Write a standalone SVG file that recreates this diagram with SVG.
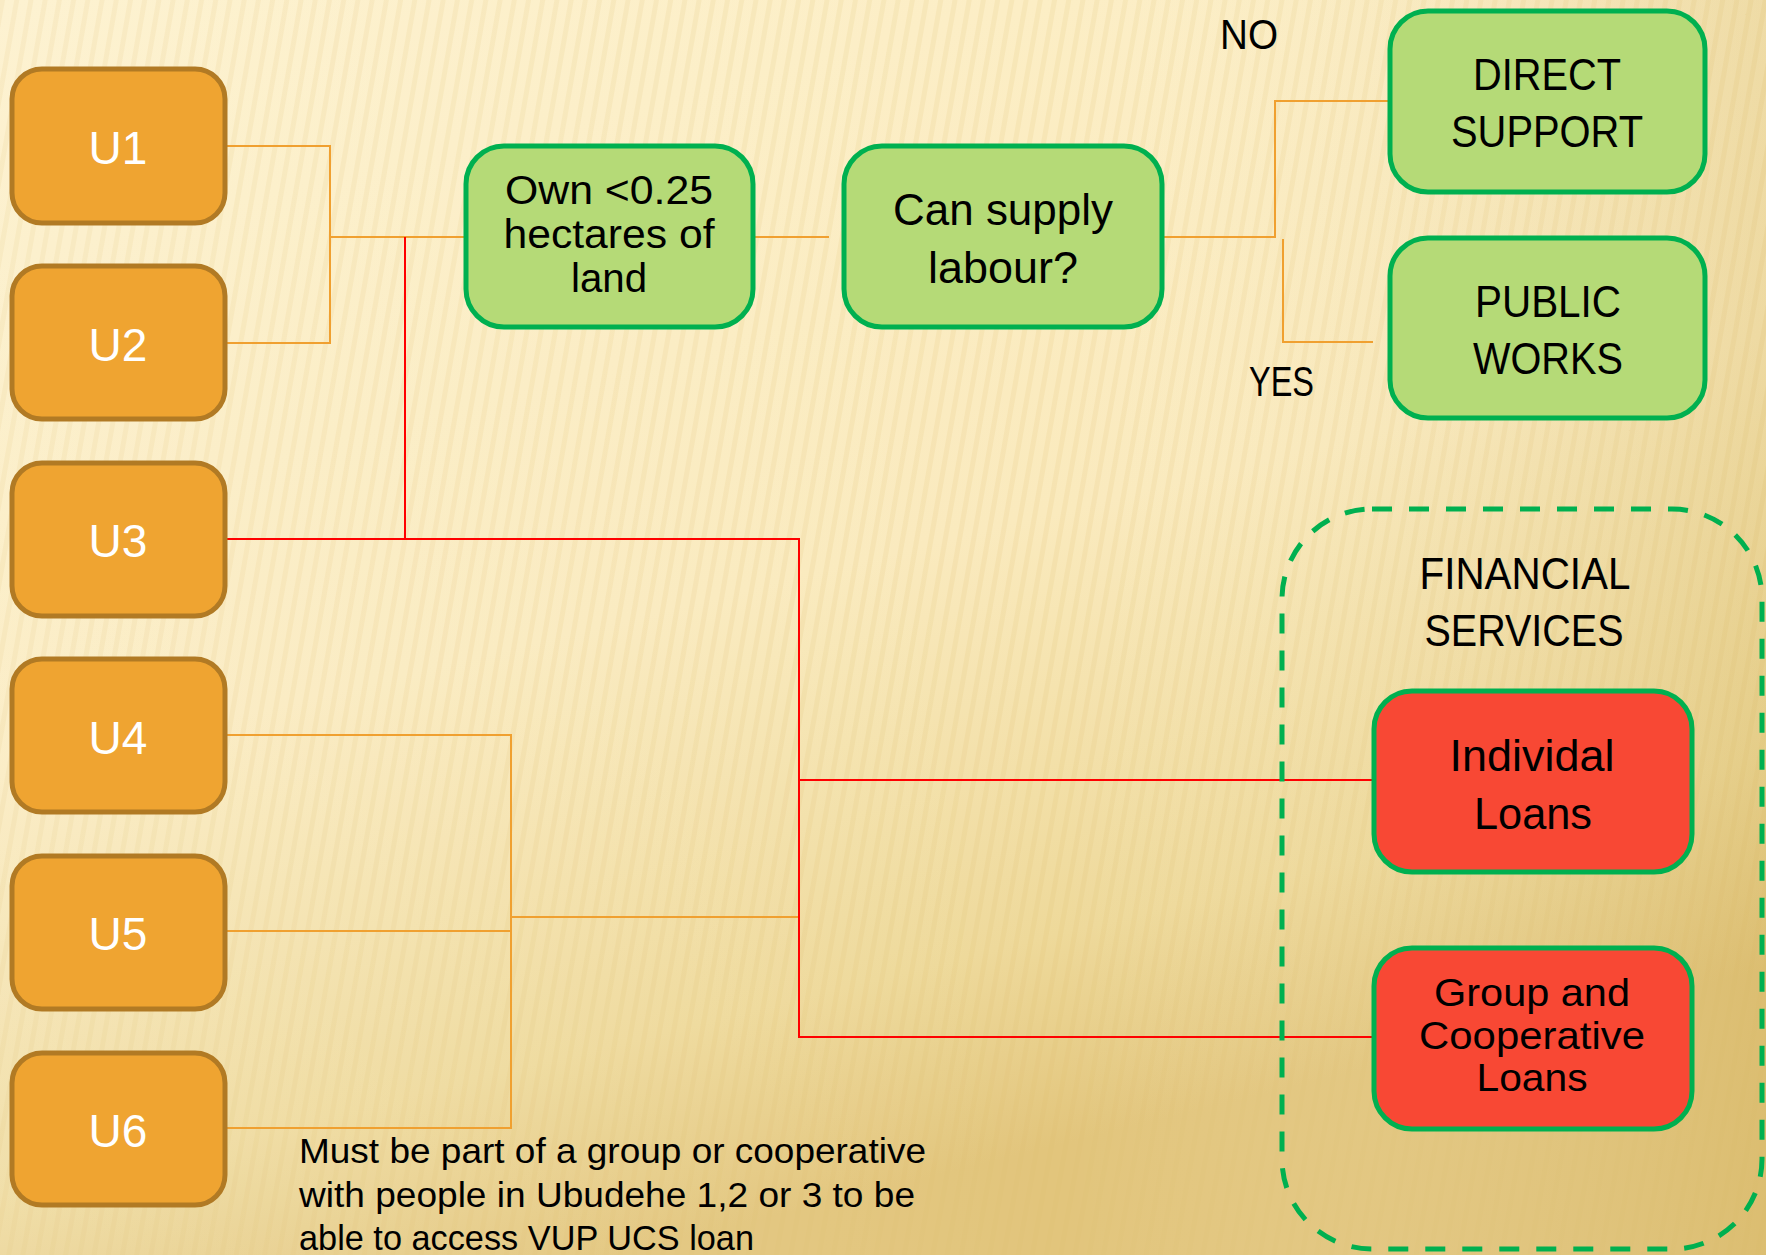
<svg xmlns="http://www.w3.org/2000/svg" width="1766" height="1255" viewBox="0 0 1766 1255">
<defs>
<linearGradient id="bg" x1="0" y1="0" x2="0.35" y2="1">
<stop offset="0" stop-color="#FDF0C9"/>
<stop offset="0.55" stop-color="#FAEABD"/>
<stop offset="0.85" stop-color="#EED99A"/>
<stop offset="1" stop-color="#E2C57C"/>
</linearGradient>
<linearGradient id="bgr" x1="0" y1="0" x2="1" y2="0">
<stop offset="0" stop-color="#FFFFFF" stop-opacity="0.15"/>
<stop offset="0.6" stop-color="#FFFFFF" stop-opacity="0"/>
<stop offset="1" stop-color="#C9A850" stop-opacity="0.25"/>
</linearGradient>
<pattern id="stripes" width="14" height="40" patternUnits="userSpaceOnUse" patternTransform="rotate(10)">
<rect x="0" y="0" width="5" height="40" fill="#D9BC6A" opacity="0.15"/>
</pattern>
<style>
.u rect{fill:#EFA431;stroke:#B17A24;stroke-width:5}
.u text{fill:#FFFFFF;font-family:"Liberation Sans",Arial,sans-serif;font-size:46px;text-anchor:middle}
.g rect{fill:#B5DA77;stroke:#00B050;stroke-width:5}
.r rect{fill:#F84834;stroke:#00B050;stroke-width:5}
.t{fill:#000000;font-family:"Liberation Sans",Arial,sans-serif;text-anchor:middle}
.lbl{fill:#000000;font-family:"Liberation Sans",Arial,sans-serif}
.or{stroke:#F0A030;stroke-width:2;fill:none}
.rd{stroke:#FF0000;stroke-width:2;fill:none}
</style>
</defs>
<rect width="1766" height="1255" fill="url(#bg)"/>
<rect width="1766" height="1255" fill="url(#stripes)"/>
<rect width="1766" height="1255" fill="url(#bgr)"/>

<g id="connectors">
<polyline class="or" points="225,146 330,146 330,343 225,343"/>
<polyline class="or" points="330,237 464,237"/>
<polyline class="or" points="754,237 829,237"/>
<polyline class="or" points="1163,237 1275,237 1275,101 1388,101"/>
<polyline class="or" points="1283,239 1283,342 1373,342"/>
<polyline class="or" points="225,735 511,735 511,1128 225,1128"/>
<polyline class="or" points="225,931 511,931"/>
<polyline class="or" points="511,917 799,917"/>
<polyline class="rd" points="405,237 405,539"/>
<polyline class="rd" points="225,539 799,539 799,1037 1372,1037"/>
<polyline class="rd" points="799,780 1372,780"/>
</g>

<g id="u1" class="u"><rect x="12" y="69" width="213" height="154" rx="30"/><text x="118" y="164">U1</text></g>
<g id="u2" class="u"><rect x="12" y="266" width="213" height="153" rx="30"/><text x="118" y="361">U2</text></g>
<g id="u3" class="u"><rect x="12" y="463" width="213" height="153" rx="30"/><text x="118" y="557">U3</text></g>
<g id="u4" class="u"><rect x="12" y="659" width="213" height="153" rx="30"/><text x="118" y="754">U4</text></g>
<g id="u5" class="u"><rect x="12" y="856" width="213" height="153" rx="30"/><text x="118" y="950">U5</text></g>
<g id="u6" class="u"><rect x="12" y="1053" width="213" height="152" rx="30"/><text x="118" y="1147">U6</text></g>

<g id="land" class="g"><rect x="466" y="146" width="287" height="181" rx="38"/>
<text class="t" font-size="40" x="609" y="204" textLength="208" lengthAdjust="spacingAndGlyphs">Own &lt;0.25</text>
<text class="t" font-size="40" x="609" y="248" textLength="211" lengthAdjust="spacingAndGlyphs">hectares of</text>
<text class="t" font-size="40" x="609" y="292" textLength="76" lengthAdjust="spacingAndGlyphs">land</text>
</g>
<g id="labour" class="g"><rect x="844" y="146" width="318" height="181" rx="38"/>
<text class="t" font-size="44" x="1003" y="225" textLength="220" lengthAdjust="spacingAndGlyphs">Can supply</text>
<text class="t" font-size="44" x="1003" y="283" textLength="150" lengthAdjust="spacingAndGlyphs">labour?</text>
</g>
<g id="direct" class="g"><rect x="1390" y="11" width="315" height="181" rx="38"/>
<text class="t" font-size="44" x="1547" y="90" textLength="148" lengthAdjust="spacingAndGlyphs">DIRECT</text>
<text class="t" font-size="44" x="1547" y="147" textLength="192" lengthAdjust="spacingAndGlyphs">SUPPORT</text>
</g>
<g id="public" class="g"><rect x="1390" y="238" width="315" height="180" rx="38"/>
<text class="t" font-size="44" x="1548" y="317" textLength="146" lengthAdjust="spacingAndGlyphs">PUBLIC</text>
<text class="t" font-size="44" x="1548" y="374" textLength="150" lengthAdjust="spacingAndGlyphs">WORKS</text>
</g>

<g id="no"><text class="lbl" font-size="42" x="1220" y="49" textLength="58" lengthAdjust="spacingAndGlyphs">NO</text></g>
<g id="yes"><text class="lbl" font-size="42" x="1249" y="396" textLength="65" lengthAdjust="spacingAndGlyphs">YES</text></g>

<g id="financial">
<rect x="1282" y="509" width="480" height="740" rx="90" fill="none" stroke="#00B050" stroke-width="5" stroke-dasharray="20,17"/>
<text class="t" font-size="44" x="1525" y="589" textLength="211" lengthAdjust="spacingAndGlyphs">FINANCIAL</text>
<text class="t" font-size="44" x="1524" y="646" textLength="199" lengthAdjust="spacingAndGlyphs">SERVICES</text>
</g>
<g id="individual" class="r"><rect x="1374" y="691" width="318" height="181" rx="38"/>
<text class="t" font-size="45" x="1532" y="771" textLength="165" lengthAdjust="spacingAndGlyphs">Individal</text>
<text class="t" font-size="45" x="1533" y="829" textLength="118" lengthAdjust="spacingAndGlyphs">Loans</text>
</g>
<g id="group" class="r"><rect x="1374" y="948" width="318" height="181" rx="38"/>
<text class="t" font-size="39" x="1532" y="1006" textLength="196" lengthAdjust="spacingAndGlyphs">Group and</text>
<text class="t" font-size="39" x="1532" y="1049" textLength="226" lengthAdjust="spacingAndGlyphs">Cooperative</text>
<text class="t" font-size="39" x="1532" y="1091" textLength="111" lengthAdjust="spacingAndGlyphs">Loans</text>
</g>

<g id="note">
<text class="lbl" font-size="35" x="299" y="1163" textLength="627" lengthAdjust="spacingAndGlyphs">Must be part of a group or cooperative</text>
<text class="lbl" font-size="35" x="299" y="1207" textLength="616" lengthAdjust="spacingAndGlyphs">with people in Ubudehe 1,2 or 3 to be</text>
<text class="lbl" font-size="35" x="299" y="1250" textLength="455" lengthAdjust="spacingAndGlyphs">able to access VUP UCS loan</text>
</g>
</svg>
